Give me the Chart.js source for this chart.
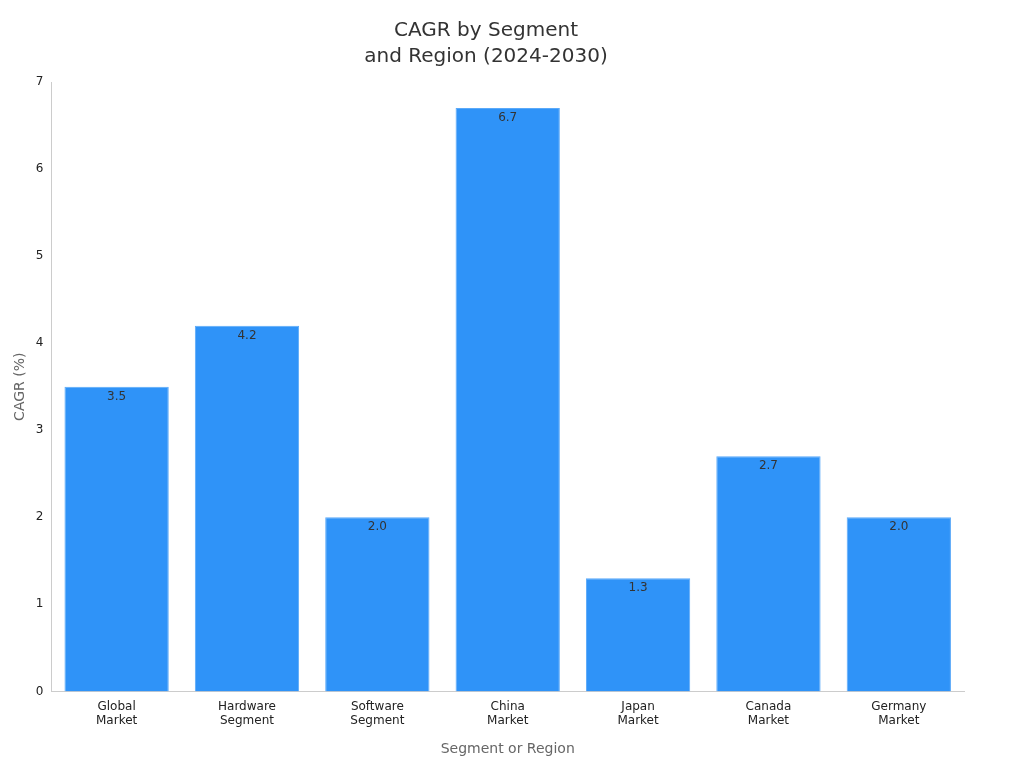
<!DOCTYPE html>
<html><head><meta charset="utf-8">
<script src="https://cdn.jsdelivr.net/npm/chart.js@4"></script>
<style>html,body{margin:0;padding:0;background:#fff}#w{width:1024px;height:768px}</style>
</head><body><div id="w"><canvas id="c"></canvas></div>
<script>
const categories = [["Global","Market"],["Hardware","Segment"],["Software","Segment"],["China","Market"],["Japan","Market"],["Canada","Market"],["Germany","Market"]];
const values = [3.5, 4.2, 2.0, 6.7, 1.3, 2.7, 2.0];
const yTicks = [0,1,2,3,4,5,6,7];

const labelPlugin = {
  id: 'lbl',
  afterDatasetsDraw(chart) {
    const ctx = chart.ctx;
    const meta = chart.getDatasetMeta(0);
    ctx.save();
    ctx.font = '12px "DejaVu Sans"';
    ctx.fillStyle = '#333';
    ctx.textAlign = 'center';
    ctx.textBaseline = 'top';
    meta.data.forEach((b, i) => {
      ctx.fillText(values[i].toFixed(1), b.x, b.y + 4);
    });
    ctx.restore();
  }
};

new Chart(document.getElementById('c'), {
  type: 'bar',
  data: { labels: categories, datasets: [{ data: values, backgroundColor: '#2f93f8', borderColor: '#5aa9f9', borderWidth: 1, barPercentage: 0.8, categoryPercentage: 1.0 }] },
  options: {
    responsive: true, maintainAspectRatio: false, animation: false,
    layout: { padding: { left: 8, right: 60, top: 10, bottom: 6 } },
    plugins: {
      legend: { display: false }, tooltip: { enabled: false },
      title: { display: true, text: ['CAGR by Segment', 'and Region (2024-2030)'], color: '#333', font: { family: 'DejaVu Sans', size: 20, weight: 'normal', lineHeight: 1.3 }, padding: { top: 8, bottom: 12 } }
    },
    scales: {
      x: {
        grid: { display: false, drawTicks: true, tickLength: 5 },
        border: { color: '#ccc' },
        ticks: { color: '#222', font: { family: 'DejaVu Sans', size: 12 }, maxRotation: 0 },
        title: { display: true, text: 'Segment or Region', color: '#666', font: { family: 'DejaVu Sans', size: 14 }, padding: { top: 10 } }
      },
      y: {
        min: 0, max: 7,
        afterBuildTicks(s) { s.ticks = yTicks.map(v => ({ value: v })); },
        grid: { display: false, drawTicks: true, tickLength: 5 },
        border: { color: '#ccc' },
        ticks: { color: '#222', font: { family: 'DejaVu Sans', size: 12 } },
        title: { display: true, text: 'CAGR (%)', color: '#666', font: { family: 'DejaVu Sans', size: 14 } }
      }
    }
  },
  plugins: [labelPlugin]
});
</script></body></html>
